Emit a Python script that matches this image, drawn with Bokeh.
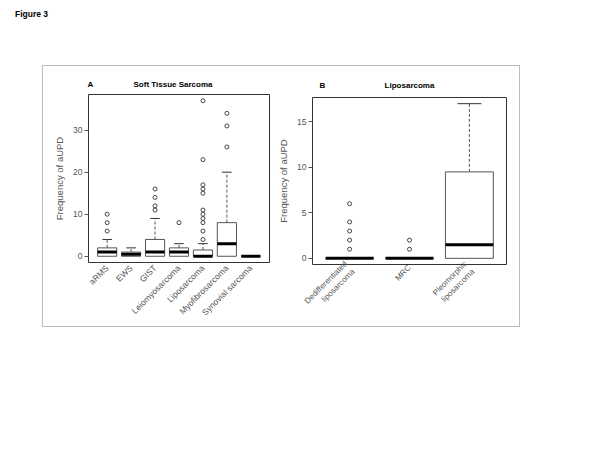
import math
from bokeh.plotting import figure
from bokeh.models import FixedTicker, Div, LinearAxis
from bokeh.layouts import row, column
from bokeh.embed import file_html
from bokeh.resources import INLINE

# ---------------- data ----------------
cats_a = ["aRMS", "EWS", "GIST", "Leiomyosarcoma", "Liposarcoma",
          "Myofibrosarcoma", "Synovial sarcoma"]
q1_a = [0, 0, 0, 0, 0, 0, 0]
med_a = [1, 0.5, 1, 1, 0, 3, 0]
q3_a = [2, 1, 4, 2, 1.5, 8, 0]
lo_a = [0, 0, 0, 0, 0, 0, 0]
hi_a = [4, 2, 9, 3, 3, 20, 0]
out_a = [[6, 8, 10], [], [11, 12, 14, 16], [8],
         [4, 6, 8, 9, 10, 11, 15, 16, 17, 23, 37], [26, 31, 34], []]
yticks_a = [0, 10, 20, 30]

cats_b = ["Dedifferentiated\nliposarcoma", "MRC", "Pleomorphic\nliposarcoma"]
q1_b = [0, 0, 0]
med_b = [0, 0, 1.5]
q3_b = [0, 0, 9.5]
lo_b = [0, 0, 0]
hi_b = [0, 0, 17]
out_b = [[1, 2, 3, 4, 6], [1, 2], []]
yticks_b = [0, 5, 10, 15]

FONT = "Liberation Sans"
GRAY = "#555555"


def panel(letter, title, cats, q1, med, q3, lo, hi, outs, yticks,
          fw, fh, bl, bt, br, bb, head_standoff, title_dx, letter_dx,
          xlab_standoff, xlab_size):
    n = len(cats)
    xs = list(range(1, n + 1))
    allv = q1 + q3 + lo + hi + [v for o in outs for v in o]
    ymin, ymax = min(allv), max(allv)
    yr = ymax - ymin
    y0, y1 = ymin - 0.04 * yr, ymax + 0.04 * yr
    x0, x1 = 0.5 - 0.04 * n, n + 0.5 + 0.04 * n
    p = figure(frame_width=fw, frame_height=fh, min_border_left=bl,
               min_border_top=bt, min_border_right=br, min_border_bottom=bb,
               x_range=(x0, x1), y_range=(y0, y1), toolbar_location=None,
               output_backend="svg", background_fill_color="white",
               border_fill_color="white", title=None)
    p.grid.visible = False
    p.outline_line_color = "#333333"
    p.outline_line_width = 1
    p.outline_line_alpha = 1

    # y axis
    ya = p.yaxis[0]
    ya.ticker = FixedTicker(ticks=yticks)
    ya.axis_line_color = None
    ya.major_tick_out = 4
    ya.major_tick_in = 0
    ya.minor_tick_out = 0
    ya.minor_tick_line_color = None
    ya.major_tick_line_color = GRAY
    ya.major_label_text_font = FONT
    ya.major_label_text_font_size = "8.5px"
    ya.major_label_text_color = GRAY
    ya.major_label_standoff = 2
    ya.axis_label = "Frequency of aUPD"
    ya.axis_label_text_font = FONT
    ya.axis_label_text_font_size = "9.5px"
    ya.axis_label_text_font_style = "normal"
    ya.axis_label_text_color = GRAY
    ya.axis_label_standoff = 5

    # x axis (category names, rotated)
    xa = p.xaxis[0]
    xa.ticker = FixedTicker(ticks=xs)
    xa.major_label_overrides = {x: c for x, c in zip(xs, cats)}
    xa.major_label_orientation = math.pi / 4
    xa.axis_line_color = None
    xa.major_tick_line_color = None
    xa.minor_tick_line_color = None
    xa.major_tick_out = 0
    xa.major_tick_in = 0
    xa.minor_tick_out = 0
    xa.major_label_text_font = FONT
    xa.major_label_text_font_size = xlab_size
    xa.major_label_text_color = GRAY
    xa.major_label_standoff = xlab_standoff

    # heading (panel letter + title) as labels of an axis above the frame
    xppu = fw / (x1 - x0)
    lx = x0 + letter_dx / xppu
    tx = (x0 + x1) / 2 + title_dx / xppu
    ha = LinearAxis(ticker=FixedTicker(ticks=[lx, tx]),
                    major_label_overrides={lx: letter, tx: title})
    ha.axis_line_color = None
    ha.major_tick_line_color = None
    ha.minor_tick_line_color = None
    ha.major_tick_out = 0
    ha.major_tick_in = 0
    ha.minor_tick_out = 0
    ha.major_label_text_font = FONT
    ha.major_label_text_font_size = "8px"
    ha.major_label_text_font_style = "bold"
    ha.major_label_text_color = "black"
    ha.major_label_standoff = head_standoff
    p.add_layout(ha, "above")

    hw = 0.4
    cw = 0.2
    p.quad(left=[x - hw for x in xs], right=[x + hw for x in xs],
           bottom=q1, top=q3, fill_color="white", line_color=GRAY,
           line_width=1)
    p.segment(x0=xs, y0=q3, x1=xs, y1=hi, line_color=GRAY, line_width=1,
              line_dash="3 2")
    p.segment(x0=[x - cw for x in xs], y0=hi, x1=[x + cw for x in xs], y1=hi,
              line_color="#333333", line_width=1)
    p.segment(x0=[x - hw for x in xs], y0=med, x1=[x + hw for x in xs],
              y1=med, line_color="black", line_width=3)
    ox = [x for x, o in zip(xs, outs) for _ in o]
    oy = [v for o in outs for v in o]
    p.scatter(ox, oy, marker="circle", size=4, fill_color=None,
              line_color="#444444", line_width=1)
    return p


pA = panel("A", "Soft Tissue Sarcoma", cats_a, q1_a, med_a, q3_a, lo_a, hi_a,
           out_a, yticks_a, fw=181, fh=168, bl=45, bt=28, br=6, bb=64,
           head_standoff=6, title_dx=-6, letter_dx=2, xlab_standoff=4,
           xlab_size="8.5px")
pB = panel("B", "Liposarcoma", cats_b, q1_b, med_b, q3_b, lo_b, hi_b,
           out_b, yticks_b, fw=194, fh=167, bl=36, bt=31, br=13, bb=62,
           head_standoff=8, title_dx=0, letter_dx=10, xlab_standoff=2,
           xlab_size="8px")

fig_label = Div(text="<b>Figure 3</b>", width=100, height=12,
                margin=(10, 0, 0, 15),
                styles={"font-family": FONT, "font-size": "8.5px",
                        "color": "black", "line-height": "1"})

# wrap each panel separately so their plot frames are not aligned together
panels = row(column(pA), column(pB), margin=(44, 0, 0, 43),
             styles={"outline": "1px solid #bdbdbd"})

layout = column(fig_label, panels)

open("out.html", "w").write(file_html(layout, INLINE))
